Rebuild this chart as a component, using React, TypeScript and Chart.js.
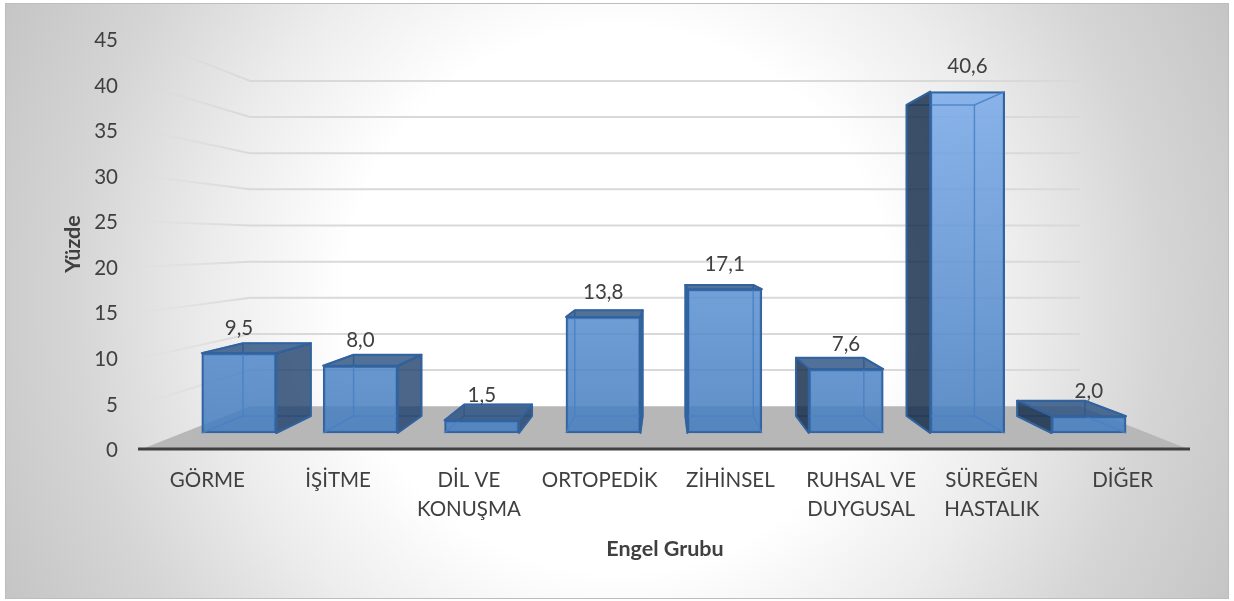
import React, { useEffect, useRef } from "react";
import { Chart, registerables } from "chart.js";

Chart.register(...registerables);

const categories: (string | string[])[] = [
  "GÖRME",
  "İŞİTME",
  ["DİL VE", "KONUŞMA"],
  "ORTOPEDİK",
  "ZİHİNSEL",
  ["RUHSAL VE", "DUYGUSAL"],
  ["SÜREĞEN", "HASTALIK"],
  "DİĞER",
];
const values = [9.5, 8.0, 1.5, 13.8, 17.1, 7.6, 40.6, 2.0];
const yTicks = [0, 5, 10, 15, 20, 25, 30, 35, 40, 45];
const yTitle = "Yüzde";
const xTitle = "Engel Grubu";

const W = 1234;
const H = 601;
const FONT = "Lato, Carlito, sans-serif";
const VP = { x: 665, y: 242 };
const WALL_DEPTH = 0.2065;
const BAR_DEPTH = 0.089;

const toVP = (x: number, y: number, d: number): [number, number] => [x + d * (VP.x - x), y + d * (VP.y - y)];

function poly(ctx: CanvasRenderingContext2D, pts: [number, number][]) {
  ctx.beginPath();
  pts.forEach((p, i) => (i ? ctx.lineTo(p[0], p[1]) : ctx.moveTo(p[0], p[1])));
  ctx.closePath();
}

function innerEdges(ctx: CanvasRenderingContext2D, el: any) {
  const l = el.x - el.width / 2;
  const r = el.x + el.width / 2;
  const t = el.y;
  const b = el.base;
  const bl = toVP(l, b, BAR_DEPTH);
  const br = toVP(r, b, BAR_DEPTH);
  const tl = toVP(l, t, BAR_DEPTH);
  const tr = toVP(r, t, BAR_DEPTH);
  poly(ctx, [bl, br, tr, tl]);
  ctx.stroke();
  ctx.beginPath();
  ctx.moveTo(l, b);
  ctx.lineTo(bl[0], bl[1]);
  ctx.moveTo(r, b);
  ctx.lineTo(br[0], br[1]);
  ctx.moveTo(l, t);
  ctx.lineTo(tl[0], tl[1]);
  ctx.moveTo(r, t);
  ctx.lineTo(tr[0], tr[1]);
  ctx.stroke();
}

const scenePlugin = {
  id: "scene",
  beforeDraw(chart: any) {
    const ctx: CanvasRenderingContext2D = chart.ctx;
    ctx.save();
    ctx.fillStyle = "#ffffff";
    ctx.fillRect(0, 0, W, H);
    const g = ctx.createRadialGradient(617, 300, 0, 617, 300, 680);
    g.addColorStop(0, "#ffffff");
    g.addColorStop(0.4, "#ffffff");
    g.addColorStop(0.6, "#ececec");
    g.addColorStop(0.8, "#d5d5d5");
    g.addColorStop(1, "#c5c5c5");
    ctx.fillStyle = g;
    ctx.fillRect(6, 3, 1223, 596);
    ctx.strokeStyle = "#bdbdbd";
    ctx.lineWidth = 1;
    ctx.strokeRect(5.5, 3.5, 1223, 595);
    ctx.restore();
    // nudge the value-axis labels onto the reference's optical centre
    chart.scales.y.getLabelItems().forEach((it: any) => {
      if (!it.nudged) {
        it.options.translation[1] += 1.5;
        it.nudged = true;
      }
    });
  },
  beforeDatasetsDraw(chart: any) {
    const ctx: CanvasRenderingContext2D = chart.ctx;
    const { y } = chart.scales;
    const a = chart.chartArea;
    ctx.save();
    const fl = y.getPixelForValue(0);
    poly(ctx, [[a.left, fl], toVP(a.left, fl, WALL_DEPTH), toVP(a.right, fl, WALL_DEPTH), [a.right, fl]]);
    ctx.fillStyle = "#b7b7b7";
    ctx.fill();
    ctx.lineWidth = 2;
    yTicks.slice(1).forEach((v) => {
      const py = y.getPixelForValue(v);
      const p0: [number, number] = [a.left, py];
      const p1 = toVP(a.left, py, WALL_DEPTH);
      const p2 = toVP(a.right, py, WALL_DEPTH);
      const grad = ctx.createLinearGradient(p0[0], 0, p1[0], 0);
      grad.addColorStop(0, "rgba(217,217,217,0.1)");
      grad.addColorStop(1, "rgba(217,217,217,1)");
      ctx.strokeStyle = grad;
      ctx.beginPath();
      ctx.moveTo(p0[0], p0[1]);
      ctx.lineTo(p1[0], p1[1]);
      ctx.stroke();
      ctx.strokeStyle = "#d9d9d9";
      ctx.beginPath();
      ctx.moveTo(p1[0], p1[1]);
      ctx.lineTo(p2[0], p2[1]);
      ctx.stroke();
    });
    ctx.restore();
  },
  afterDatasetsDraw(chart: any) {
    const ctx: CanvasRenderingContext2D = chart.ctx;
    const meta = chart.getDatasetMeta(0);
    const { y } = chart.scales;
    const a = chart.chartArea;
    ctx.save();
    const edge = "#32639f";
    meta.data.forEach((el: any) => {
      ctx.strokeStyle = "rgba(72,128,198,0.85)";
      ctx.lineWidth = 1.5;
      innerEdges(ctx, el);
      const l = el.x - el.width / 2;
      const r = el.x + el.width / 2;
      const t = el.y;
      const b = el.base;
      const bl = toVP(l, b, BAR_DEPTH);
      const br = toVP(r, b, BAR_DEPTH);
      const tl = toVP(l, t, BAR_DEPTH);
      const tr = toVP(r, t, BAR_DEPTH);
      ctx.lineWidth = 2;
      ctx.strokeStyle = edge;
      ctx.lineJoin = "round";
      if (tl[1] < t) {
        poly(ctx, [[l, t], [r, t], tr, tl]);
        ctx.fillStyle = "rgba(38,78,128,0.8)";
        ctx.fill();
        ctx.stroke();
      }
      if (br[0] > r + 0.5) {
        poly(ctx, [[r, t], tr, br, [r, b]]);
        ctx.fillStyle = "rgba(30,64,108,0.8)";
        ctx.fill();
        ctx.stroke();
      }
      if (bl[0] < l - 0.5) {
        poly(ctx, [[l, t], tl, bl, [l, b]]);
        ctx.fillStyle = "rgba(20,44,76,0.83)";
        ctx.fill();
        ctx.stroke();
      }
    });
    const py = y.getPixelForValue(0);
    ctx.strokeStyle = "#404040";
    ctx.lineWidth = 3;
    ctx.beginPath();
    ctx.moveTo(a.left - 4, py);
    ctx.lineTo(a.right + 2, py);
    ctx.stroke();
    ctx.fillStyle = "#404040";
    ctx.font = `20.5px ${FONT}`;
    ctx.textAlign = "center";
    ctx.textBaseline = "middle";
    meta.data.forEach((el: any, i: number) => {
      ctx.fillText(values[i].toFixed(1).replace(".", ","), el.x, el.y - 25);
    });
    ctx.restore();
  },
};

export default function App() {
  const ref = useRef<HTMLCanvasElement | null>(null);
  useEffect(() => {
    const canvas = ref.current!;
    const c2d = canvas.getContext("2d")!;
    const grad = c2d.createLinearGradient(0, 91, 0, 433);
    grad.addColorStop(0, "rgba(121,170,233,0.86)");
    grad.addColorStop(1, "rgba(69,125,191,0.86)");
    const chart = new Chart(canvas, {
      type: "bar",
      data: {
        labels: categories as any,
        datasets: [
          {
            label: "Yüzde",
            data: values.map((v, i) => ({ x: i, y: v })) as any,
            xAxisID: "xBar",
            yAxisID: "yBar",
            backgroundColor: grad,
            borderColor: "#32639f",
            borderWidth: 2,
            borderSkipped: false,
            barThickness: 74.5,
          },
        ],
      },
      plugins: [scenePlugin],
      options: {
        animation: false,
        responsive: false,
        devicePixelRatio: 1,
        layout: { padding: { left: 0, right: 46, top: 39, bottom: 0 } },
        plugins: { legend: { display: false }, tooltip: { enabled: false }, title: { display: false } },
        scales: {
          x: {
            type: "category",
            position: "bottom",
            offset: true,
            grid: { display: false },
            border: { display: false },
            afterFit: (s: any) => {
              s.height = 152;
            },
            ticks: {
              autoSkip: false,
              maxRotation: 0,
              minRotation: 0,
              padding: 9,
              color: "#404040",
              font: { family: FONT, size: 20.5, lineHeight: 1.4 },
            },
            title: {
              display: true,
              text: xTitle,
              color: "#404040",
              font: { family: FONT, size: 21.5, weight: "bold" },
              padding: { top: 0, bottom: 39 },
            },
          },
          y: {
            type: "linear",
            position: "left",
            min: 0,
            max: 45,
            afterFit: (s: any) => {
              s.width = 142;
            },
            grid: { display: false },
            border: { display: false },
            afterBuildTicks: (s: any) => {
              s.ticks = yTicks.map((value) => ({ value }));
            },
            ticks: {
              padding: 16,
              color: "#404040",
              font: { family: FONT, size: 20.5 },
            },
            title: {
              display: true,
              text: yTitle,
              color: "#404040",
              font: { family: FONT, size: 21.5, weight: "bold" },
              padding: { top: 60, bottom: 0 },
            },
          },
          xBar: { type: "linear", display: false, min: -0.799, max: 7.817, offset: false },
          yBar: { type: "linear", display: false, min: -1.903, max: 46.85 },
        },
      },
    } as any);
    return () => chart.destroy();
  }, []);
  return (
    <div style={{ position: "fixed", left: 0, top: 0, width: W, height: H, overflow: "hidden" }}>
      <canvas ref={ref} width={W} height={H} style={{ display: "block", width: W, height: H }} />
    </div>
  );
}
